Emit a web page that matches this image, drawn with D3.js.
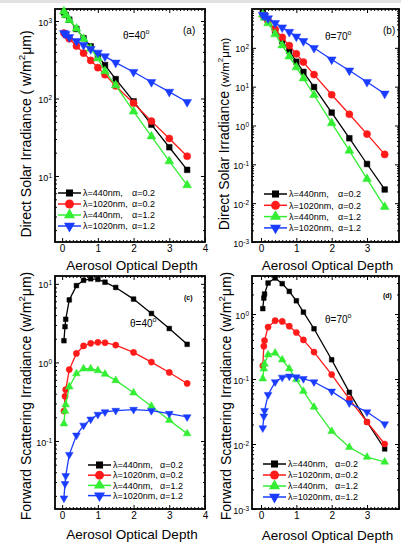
<!DOCTYPE html>
<html><head><meta charset="utf-8">
<script src="https://cdn.jsdelivr.net/npm/d3@7"></script>
<style>
body{margin:0;background:#fff}
svg{display:block}
text{font-family:"Liberation Sans",Arial,Helvetica,sans-serif;fill:#000}
</style>
</head><body>
<script>
// ---------------- DATA ----------------
const aodDirect  = [0.05, 0.1, 0.2, 0.4, 0.6, 0.8, 1.0, 1.2, 1.5, 2.0, 2.5, 3.0, 3.5];
const aodScatter = [0.05, 0.08, 0.1, 0.2, 0.4, 0.6, 0.8, 1.0, 1.2, 1.5, 2.0, 2.5, 3.0, 3.5];

const seriesWavelength = ["λ=440nm,", "λ=1020nm,", "λ=440nm,", "λ=1020nm,"];
const seriesAlpha      = ["α=0.2", "α=0.2", "α=1.2", "α=1.2"];
const seriesColors     = ["#000000", "#ff1a1a", "#33ee33", "#1a3cff"];
const seriesSymbols    = ["square", "circle", "triangle", "triangleDown"];

// (a) direct, theta = 40
const directT40_440_a02  = [1290, 1200, 1040, 790, 600, 470, 355, 270, 178, 92, 46, 23.5, 12];
const directT40_1020_a02 = [700, 660, 590, 475, 385, 310, 250, 203, 145, 87, 51, 30.5, 18];
const directT40_440_a12  = [1330, 1190, 1030, 800, 590, 440, 330, 225, 148, 68, 32.5, 15.5, 7.6];
const directT40_1020_a12 = [700, 680, 620, 550, 490, 435, 390, 350, 290, 220, 163, 122, 90];
// (b) direct, theta = 70
const directT70_440_a02  = [790, 690, 510, 279, 151, 83, 44, 24, 9.8, 2.15, 0.47, 0.102, 0.0225];
const directT70_1020_a02 = [700, 620, 490, 300, 186, 114, 70, 43, 20.5, 6.2, 1.95, 0.6, 0.18];
const directT70_440_a12  = [720, 600, 430, 224, 116, 60, 31.5, 16.4, 6.1, 1.15, 0.225, 0.042, 0.008];
const directT70_1020_a12 = [705, 660, 575, 437, 335, 257, 195, 149, 99, 50, 26, 13.2, 6.6];
// (c) forward scattering, theta = 40
const scatterT40_440_a02  = [1.89, 2.85, 3.54, 6.25, 9.5, 11.1, 11.6, 11.4, 10.5, 9.0, 6.4, 4.2, 2.7, 1.70];
const scatterT40_1020_a02 = [0.24, 0.37, 0.45, 0.81, 1.30, 1.62, 1.75, 1.80, 1.78, 1.66, 1.34, 1.01, 0.745, 0.54];
const scatterT40_440_a12  = [0.166, 0.24, 0.29, 0.49, 0.72, 0.83, 0.83, 0.79, 0.71, 0.59, 0.41, 0.277, 0.184, 0.124];
const scatterT40_1020_a12 = [0.0187, 0.0285, 0.036, 0.067, 0.118, 0.158, 0.189, 0.217, 0.234, 0.244, 0.251, 0.243, 0.223, 0.202];
// (d) forward scattering, theta = 70
const scatterT70_440_a02  = [1.21, 1.76, 2.03, 3.0, 3.58, 2.93, 2.23, 1.6, 1.07, 0.594, 0.198, 0.0624, 0.0218, 0.0084];
const scatterT70_1020_a02 = [0.16, 0.32, 0.39, 0.63, 0.79, 0.77, 0.65, 0.52, 0.40, 0.26, 0.117, 0.049, 0.0218, 0.010];
const scatterT70_440_a12  = [0.101, 0.144, 0.17, 0.237, 0.251, 0.198, 0.144, 0.098, 0.065, 0.037, 0.0157, 0.0089, 0.0063, 0.0053];
const scatterT70_1020_a12 = [0.0176, 0.0267, 0.0326, 0.0574, 0.09, 0.106, 0.11, 0.107, 0.101, 0.09, 0.0646, 0.0428, 0.031, 0.0203];

const xTicksLeft  = [0, 1, 2, 3, 4];
const xTicksRight = [0, 1, 2, 3];
const yTicksA = [10, 100, 1000];
const yTicksB = [0.001, 0.01, 0.1, 1, 10, 100];
const yTicksC = [0.1, 1, 10];
const yTicksD = [0.001, 0.01, 0.1, 1];

const panelLetters = ["(a)", "(b)", "(c)", "(d)"];
const panelAngles  = ["θ=40", "θ=70", "θ=40", "θ=70"];
const xTitle = "Aerosol Optical Depth";
const yTitleDirect = "Direct Solar Irradiance";
const yTitleScatter = "Forward Scattering Irradiance";

// ---------------- LAYOUT ----------------
const W = 401, H = 547;
const svg = d3.select("body").append("svg").attr("width", W).attr("height", H);
svg.append("rect").attr("width", W).attr("height", H).attr("fill", "#fff");
svg.append("rect").attr("width", W).attr("height", 3).attr("fill", "#e2e2e2");

const panels = [
  { left: 55, right: 205, top: 9, bottom: 242, xDomain: [-0.2, 4.0], yDomain: [Math.pow(10, 0.148), Math.pow(10, 3.155)],
    xTicks: xTicksLeft, yTicks: yTicksA, x: aodDirect,
    ys: [directT40_440_a02, directT40_1020_a02, directT40_440_a12, directT40_1020_a12], big: true,
    ytitle: { x: 31, y: 134, main: yTitleDirect, unit: "( w/m", unitSize: 14 },
    xtitleY: 270, tickY: 252,
    letter: { x: 183, y: 34, size: 10, bold: false }, angle: { x: 123, y: 39 },
    legend: { x: 58, y: 193, dy: 11, alphaX: 49 } },
  { left: 252, right: 399, top: 9, bottom: 242, xDomain: [-0.255, 3.905], yDomain: [1e-3, 1e3],
    xTicks: xTicksRight, yTicks: yTicksB, x: aodDirect,
    ys: [directT70_440_a02, directT70_1020_a02, directT70_440_a12, directT70_1020_a12], big: true,
    ytitle: { x: 229, y: 134, main: yTitleDirect, unit: "(w/m", unitSize: 11.5 },
    xtitleY: 270, tickY: 252,
    letter: { x: 383, y: 34, size: 10, bold: false }, angle: { x: 325, y: 40 },
    legend: { x: 264, y: 194, dy: 11.3, alphaX: 49 } },
  { left: 55, right: 205, top: 276, bottom: 509, xDomain: [-0.2, 4.0], yDomain: [Math.pow(10, -1.866), Math.pow(10, 1.10)],
    xTicks: xTicksLeft, yTicks: yTicksC, x: aodScatter,
    ys: [scatterT40_440_a02, scatterT40_1020_a02, scatterT40_440_a12, scatterT40_1020_a12], big: false,
    ytitle: { x: 31, y: 396, main: yTitleScatter, unit: "(w/m", unitSize: 14 },
    xtitleY: 539, tickY: 519,
    letter: { x: 184, y: 300, size: 7, bold: true }, angle: { x: 130, y: 327 },
    legend: { x: 88, y: 465, dy: 10.2, alphaX: 47 } },
  { left: 252, right: 399, top: 276, bottom: 509, xDomain: [-0.255, 3.905], yDomain: [1e-3, Math.pow(10, 0.585)],
    xTicks: xTicksRight, yTicks: yTicksD, x: aodScatter,
    ys: [scatterT70_440_a02, scatterT70_1020_a02, scatterT70_440_a12, scatterT70_1020_a12], big: false,
    ytitle: { x: 231, y: 396, main: yTitleScatter, unit: "(w/m", unitSize: 14 },
    xtitleY: 540, tickY: 519,
    letter: { x: 383, y: 298, size: 7, bold: true }, angle: { x: 325, y: 323 },
    legend: { x: 263, y: 464, dy: 11, alphaX: 47 } }
];

function symbolPath(kind, big) {
  const s = big ? { square: 32, circle: 40, triangle: 34 } : { square: 22, circle: 30, triangle: 26 };
  if (kind === "square") return d3.symbol(d3.symbolSquare, s.square)();
  if (kind === "circle") return d3.symbol(d3.symbolCircle, s.circle)();
  return d3.symbol(d3.symbolTriangle, s.triangle)();
}

function powLabel(sel) {
  sel.each(function (d) {
    const t = d3.select(this);
    const e = Math.round(Math.log10(d));
    t.text(null);
    t.append("tspan").text("10");
    t.append("tspan").attr("dy", "-0.45em").attr("font-size", 6.5).text(e);
  });
}

panels.forEach((p, i) => {
  const g = svg.append("g");
  const x = d3.scaleLinear().domain(p.xDomain).range([p.left, p.right]);
  const y = d3.scaleLog().domain(p.yDomain).range([p.bottom, p.top]);

  // minor ticks
  const xMinor = d3.range(0, 41).map(k => k / 10).filter(v => v > p.xDomain[0] && v < p.xDomain[1] && Math.abs(v - Math.round(v)) > 1e-6);
  const yMinor = [];
  for (let e = -4; e <= 4; e++) for (let m = 2; m <= 9; m++) {
    const v = m * Math.pow(10, e);
    if (v > p.yDomain[0] && v < p.yDomain[1]) yMinor.push(v);
  }
  const xMaj = p.xTicks.filter(v => v >= p.xDomain[0] - 1e-9 && v <= p.xDomain[1] + 0.01);

  const axes = [
    [d3.axisBottom(x).tickValues(xMaj).tickSizeInner(-4).tickSizeOuter(0).tickPadding(3).tickFormat(d3.format("d")), `translate(0,${p.bottom})`, "xb"],
    [d3.axisBottom(x).tickValues(xMinor).tickSizeInner(-2).tickSizeOuter(0).tickFormat(""), `translate(0,${p.bottom})`, "m"],
    [d3.axisTop(x).tickValues(xMaj).tickSizeInner(-4).tickSizeOuter(0).tickFormat(""), `translate(0,${p.top})`, "m"],
    [d3.axisTop(x).tickValues(xMinor).tickSizeInner(-2).tickSizeOuter(0).tickFormat(""), `translate(0,${p.top})`, "m"],
    [d3.axisLeft(y).tickValues(p.yTicks).tickSizeInner(-4).tickSizeOuter(0).tickPadding(3), `translate(${p.left},0)`, "yl"],
    [d3.axisLeft(y).tickValues(yMinor).tickSizeInner(-2).tickSizeOuter(0).tickFormat(""), `translate(${p.left},0)`, "m"],
    [d3.axisRight(y).tickValues(p.yTicks).tickSizeInner(-4).tickSizeOuter(0).tickFormat(""), `translate(${p.right},0)`, "m"],
    [d3.axisRight(y).tickValues(yMinor).tickSizeInner(-2).tickSizeOuter(0).tickFormat(""), `translate(${p.right},0)`, "m"]
  ];
  axes.forEach(([ax, tr, kind]) => {
    const a = g.append("g").attr("transform", tr).call(ax);
    a.select(".domain").remove();
    a.selectAll("line").attr("stroke", "#000").attr("stroke-width", 1);
    a.selectAll("text").attr("fill", "#000").attr("font-family", '"Liberation Sans",Arial,sans-serif');
    if (kind === "xb") a.selectAll("text").attr("font-size", 10).attr("dy", null).attr("y", p.tickY - p.bottom);
    if (kind === "yl") { a.selectAll("text").attr("font-size", 9).attr("dy", "0.45em").call(powLabel); }
  });

  // frame
  g.append("rect").attr("x", p.left).attr("y", p.top)
    .attr("width", p.right - p.left).attr("height", p.bottom - p.top)
    .attr("fill", "none").attr("stroke", "#000").attr("stroke-width", 1.8);

  // series
  const line = d3.line().x(d => x(d[0])).y(d => y(d[1]));
  p.ys.forEach((vals, s) => {
    const pts = p.x.map((v, k) => [v, vals[k]]);
    g.append("path").datum(pts).attr("d", line).attr("fill", "none")
      .attr("stroke", seriesColors[s]).attr("stroke-width", 1.3);
    g.selectAll(null).data(pts).enter().append("path")
      .attr("d", symbolPath(seriesSymbols[s], p.big))
      .attr("transform", d => `translate(${x(d[0])},${y(d[1])})` + (seriesSymbols[s] === "triangleDown" ? " rotate(180)" : ""))
      .attr("fill", seriesColors[s]).attr("stroke", seriesColors[s]).attr("stroke-width", 0.5);
  });

  // legend
  const L = p.legend;
  seriesColors.forEach((c, s) => {
    const yy = L.y + s * L.dy;
    g.append("line").attr("x1", L.x).attr("x2", L.x + 23).attr("y1", yy).attr("y2", yy)
      .attr("stroke", c).attr("stroke-width", 1.5);
    g.append("path").attr("d", symbolPath(seriesSymbols[s], true))
      .attr("transform", `translate(${L.x + 11.5},${yy})` + (seriesSymbols[s] === "triangleDown" ? " rotate(180)" : "") + " scale(1.25)")
      .attr("fill", c);
    const t = g.append("text").attr("x", L.x + 25).attr("y", yy + 3.2).attr("font-size", 9);
    t.append("tspan").text(seriesWavelength[s]);
    t.append("tspan").attr("x", L.x + 25 + L.alphaX).text(seriesAlpha[s]);
  });

  // panel letter
  g.append("text").attr("x", p.letter.x).attr("y", p.letter.y).attr("font-size", p.letter.size)
    .attr("font-weight", p.letter.bold ? "bold" : "normal").text(panelLetters[i]);
  // angle annotation
  const at = g.append("text").attr("x", p.angle.x).attr("y", p.angle.y).attr("font-size", 10);
  at.append("tspan").text(panelAngles[i]);
  at.append("tspan").attr("dy", -5).attr("font-size", 7).text("o");

  // x title
  g.append("text").attr("x", (p.left + p.right) / 2 + 2).attr("y", p.xtitleY)
    .attr("text-anchor", "middle").attr("font-size", 13.5).text(xTitle);

  // y title
  const yt = g.append("text").attr("transform", `translate(${p.ytitle.x},${p.ytitle.y}) rotate(-90)`)
    .attr("text-anchor", "middle").attr("font-size", 14);
  yt.append("tspan").text(p.ytitle.main + " ");
  yt.append("tspan").attr("font-size", p.ytitle.unitSize).text(p.ytitle.unit);
  yt.append("tspan").attr("font-size", p.ytitle.unitSize * 0.7).attr("dy", -6).text("2");
  yt.append("tspan").attr("font-size", p.ytitle.unitSize).attr("dy", 6).text("μm)");
});
</script>
</body></html>
